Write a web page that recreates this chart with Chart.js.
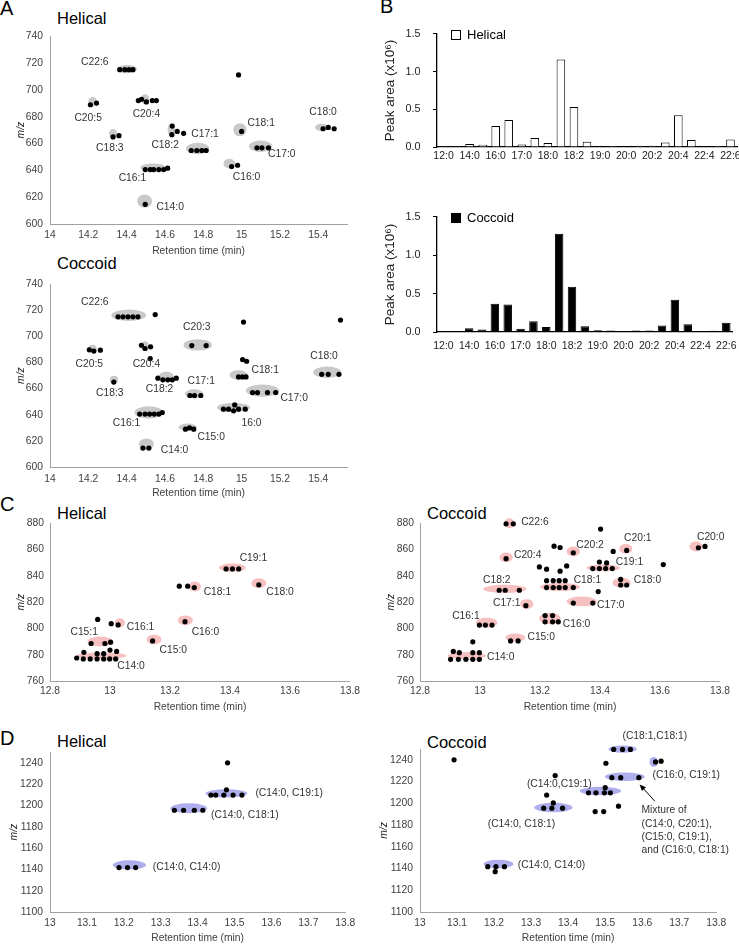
<!DOCTYPE html>
<html><head><meta charset="utf-8">
<script src="https://cdn.jsdelivr.net/npm/chart.js@4.4.1/dist/chart.umd.min.js"></script>
<style>
html,body{margin:0;padding:0;background:#fff;}
body{width:739px;height:944px;position:relative;overflow:hidden;font-family:"Liberation Sans",Arial,sans-serif;}
canvas{position:absolute;}
.t{position:absolute;line-height:1;white-space:nowrap;color:#000;}
</style></head><body>
<div class="t" style="left:0;top:-2px;font-size:20px">A</div>
<div class="t" style="left:57px;top:10px;font-size:16.5px">Helical</div>
<div class="t" style="left:57px;top:255px;font-size:16.5px">Coccoid</div>
<div class="t" style="left:380px;top:-4px;font-size:20px">B</div>
<div class="t" style="left:0;top:494px;font-size:20px">C</div>
<div class="t" style="left:57px;top:505px;font-size:16.5px">Helical</div>
<div class="t" style="left:427px;top:505px;font-size:16.5px">Coccoid</div>
<div class="t" style="left:0;top:728px;font-size:20px">D</div>
<div class="t" style="left:57px;top:733px;font-size:16.5px">Helical</div>
<div class="t" style="left:427px;top:734px;font-size:16.5px">Coccoid</div>
<canvas id="aH"></canvas><canvas id="aC"></canvas>
<canvas id="bH"></canvas><canvas id="bC"></canvas>
<canvas id="cH"></canvas><canvas id="cC"></canvas>
<canvas id="dH"></canvas><canvas id="dC"></canvas>
<script>
// ---------------- DATA ----------------
// Panel B categories and peak areas (x10^6)
const FA_CATS = ['12:0','13:0','14:0','15:0','16:0','16:1','17:0','17:1','18:0','18:1','18:2','18:3','19:0','19:1','20:0','20:1','20:2','20:3','20:4','20:5','22:4','22:5','22:6'];
const B_HELICAL = [0.003,0.003,0.04,0.03,0.28,0.36,0.033,0.12,0.053,1.16,0.53,0.07,0.008,0.012,0.004,0.016,0.016,0.06,0.42,0.094,0.008,0.012,0.10];
const B_COCCOID = [0.003,0.004,0.05,0.032,0.37,0.36,0.044,0.14,0.064,1.28,0.59,0.076,0.022,0.02,0.005,0.02,0.02,0.084,0.42,0.10,0.01,0.015,0.12];

// Panel A Helical: retention time (min), m/z
const A_H_RT = [14.364,14.39,14.412,14.433,14.984,14.211,14.243,14.461,14.478,14.503,14.534,14.555,14.329,14.36,14.638,14.664,14.697,14.636,14.737,14.766,14.792,14.815,14.497,14.523,14.541,14.568,14.593,14.614,14.497,15.0,14.948,14.979,15.08,15.106,15.14,15.425,15.452,15.483];
const A_H_MZ = [715,715,715,715,711.1,688.9,690.1,692,693,691,692,692,664.9,665.8,673,669,667.6,666.6,654.8,654.8,654.8,654.8,640.6,640.6,640.6,640.6,640.6,641.6,614.7,669,642.8,643.8,656.8,656.8,656.8,671,672,671];
const A_H_SPOT = [[14.402,715.5,0.052,3.06],[14.222,691.05,0.0217,3.67],[14.496,693.0,0.0217,3.67],[14.329,667.07,0.0217,3.67],[14.633,670.25,0.019,4.9],[14.771,656.3,0.0607,4.28],[14.537,642.1,0.065,3.06],[14.494,617.1,0.039,4.9],[14.991,670.25,0.0347,4.9],[14.936,645.04,0.0303,3.67],[15.099,658.0,0.0607,4.28],[15.418,672.0,0.0347,2.69]];
const A_H_LAB = ['C22:6','C20:5','C20:4','C18:3','C18:2','C17:1','C18:1','C16:1','C14:0','C16:0','C17:0','C18:0'];
const A_H_LAB_RT = [14.234,14.199,14.503,14.312,14.601,14.809,15.102,14.43,14.627,15.026,15.21,15.425];
const A_H_LAB_MZ = [720.9,678.8,681.75,656.8,658.75,666.6,675.1,634.0,612.2,634.8,652.4,683];

// Panel A Coccoid
const A_C_RT = [14.355,14.381,14.407,14.433,14.459,14.549,15.01,15.516,14.74,14.815,14.205,14.229,14.263,14.477,14.496,14.525,14.523,15.005,15.026,14.984,15.005,15.023,14.333,14.563,14.589,14.615,14.638,14.659,14.73,14.754,14.787,15.057,15.083,15.135,15.178,15.418,15.452,15.508,14.468,14.496,14.52,14.544,14.568,14.586,14.905,14.932,14.958,14.984,15.019,14.964,14.707,14.728,14.75,14.485,14.516];
const A_C_MZ = [715,715,715,715,715,716.75,711,712.5,693,693,689.75,688.75,689.5,693.25,690.75,692,683,682.25,681,669,669,669,665,668,666.75,666.75,666.75,668,654.75,654.75,654.75,657,657,657,657,671,671,671,640.5,640.5,640.5,640.5,640.5,641.75,644.25,644.25,643,644.25,644.25,647.5,629,630,629,614.5,614.5];
const A_C_SPOT = [[14.411,716.25,0.091,4.38],[14.771,693.5,0.0737,4.38],[14.222,690.5,0.0217,3.1],[14.496,692.5,0.0217,3.75],[14.984,670.5,0.0477,3.5],[14.334,666.75,0.0217,3.1],[14.607,669.25,0.039,3.75],[14.752,656,0.0477,3.5],[15.109,658.5,0.0867,4.75],[15.447,672.5,0.0737,4.38],[14.515,641.75,0.0737,4.75],[14.958,645.5,0.0867,3.5],[14.719,630.5,0.0477,2.75],[14.503,617.5,0.039,4.38]];
const A_C_LAB = ['C22:6','C20:3','C20:5','C20:4','C18:0','C18:1','C17:1','C18:2','C18:3','C17:0','C16:1','16:0','C15:0','C14:0'];
const A_C_LAB_RT = [14.234,14.766,14.205,14.503,15.43,15.123,14.789,14.572,14.312,15.274,14.399,15.052,14.841,14.65];
const A_C_LAB_MZ = [726,707,678.5,678.5,684.75,674,665.5,659.25,656.75,652.5,633.5,633.75,623,613];

// Panel C Helical
const C_H_RT = [12.959,13.004,13.027,13.231,13.259,13.281,13.387,13.408,13.429,13.496,13.25,13.142,12.937,12.983,13.002,13.0,13.022,12.913,12.957,12.979,12.889,12.911,12.934,12.957,12.979,12.999,13.019];
const C_H_MZ = [806.8,803.6,802.6,832.1,832.1,831.1,845.2,845.2,845.2,833.1,805.1,790.5,788.5,788.5,789.5,783.5,782.5,781.8,780.8,780.8,777.5,776.8,776.8,776.8,776.8,776.8,776.8];
const C_H_SPOT = [[12.967,790.0,0.0417,3.76],[12.972,779.25,0.0833,2.5],[13.033,804.3,0.0167,3.38],[13.147,791.5,0.025,3.76],[13.251,806.1,0.025,3.76],[13.283,831.9,0.02,3.76],[13.408,846.2,0.0444,3.13],[13.496,834.4,0.025,3.76]];
const C_H_LAB = ['C19:1','C18:1','C18:0','C16:1','C15:1','C16:0','C15:0','C14:0'];
const C_H_LAB_RT = [13.478,13.358,13.567,13.102,12.914,13.318,13.211,13.07];
const C_H_LAB_MZ = [853.2,827.6,827.6,801.05,797.5,797.5,783.5,771.5];

// Panel C Coccoid
const C_C_RT = [13.087,13.111,13.402,13.247,13.267,13.311,13.444,13.489,13.728,13.75,13.087,13.198,13.222,13.267,13.289,13.398,13.422,13.376,13.398,13.419,13.441,13.611,13.222,13.244,13.264,13.284,13.222,13.244,13.264,13.284,13.311,13.469,13.469,13.489,13.064,13.084,13.131,13.394,13.153,13.311,13.376,12.998,13.018,13.04,13.217,13.242,13.217,13.242,13.261,13.102,13.127,12.976,12.911,12.931,12.976,12.998,12.902,12.928,12.953,12.976,12.998];
const C_C_MZ = [879.5,879.5,875.5,862.5,861.5,857.5,858.5,859.3,861.3,862.3,853,846.75,845,843.5,847.5,850.5,849.75,845.5,845.5,845.5,845.5,848.5,836.25,836.25,836.25,836.25,831,831,831,831,831,837.25,833,833,829,829,829,828,817.25,819.25,819.25,802.5,802.5,802.5,809.75,809.75,805,805,805,790.5,790.5,789.75,782.5,781.5,781.5,781.5,776.5,776.5,776.5,776.5,776.5];
const C_C_SPOT = [[13.098,880,0.0167,3.75],[13.087,854,0.022,3.75],[13.311,858.5,0.022,3.75],[13.486,860.5,0.022,3.75],[13.72,862.25,0.022,3.75],[13.411,846,0.0556,2.5],[13.083,830,0.072,3.1],[13.267,831.5,0.0667,3.1],[13.472,834.75,0.0306,3.75],[13.156,818.5,0.022,3.75],[13.339,820.5,0.05,3.75],[13.022,804.25,0.036,3.75],[13.233,807.5,0.036,4.4],[13.118,793,0.033,3.1],[12.956,779.25,0.064,2.75]];
const C_C_LAB = ['C22:6','C20:4','C20:2','C20:1','C20:0','C19:1','C18:2','C18:1','C18:0','C17:1','C17:0','C16:1','C16:0','C15:0','C14:0'];
const C_C_LAB_RT = [13.183,13.159,13.367,13.526,13.769,13.498,13.056,13.358,13.558,13.089,13.436,12.953,13.322,13.204,13.069];
const C_C_LAB_MZ = [881,856,863.5,868.5,869.25,850.5,836.5,836.5,836.5,819.5,817.5,809.25,803,793.5,778];

// Panel D Helical
const D_H_RT = [13.481,13.478,13.436,13.449,13.471,13.496,13.52,13.337,13.362,13.391,13.414,13.187,13.21,13.232];
const D_H_MZ = [1240,1214.7,1209.7,1209.7,1209.7,1209.7,1209.7,1195.5,1195.5,1195.5,1195.5,1141.7,1141.7,1141.7];
const D_H_SPOT = [[13.478,1211.3,0.0564,3.86],[13.376,1197.4,0.0496,4.64],[13.215,1144.2,0.0451,4.33]];
const D_H_LAB = ['(C14:0, C19:1)','(C14:0, C18:1)','(C14:0, C14:0)'];
const D_H_LAB_RT = [13.648,13.528,13.37];
const D_H_LAB_MZ = [1211.3,1191.2,1142.3];

// Panel D Coccoid
const D_C_RT = [13.092,13.502,13.636,13.651,13.523,13.547,13.568,13.365,13.518,13.542,13.591,13.342,13.5,13.455,13.475,13.498,13.514,13.36,13.334,13.356,13.385,13.473,13.496,13.536,13.183,13.205,13.228,13.203];
const D_C_MZ = [1240,1236.9,1238.1,1238.8,1249.6,1249.6,1249.6,1225.5,1223.6,1223.6,1223.6,1207.6,1214.4,1209.7,1209.7,1209.7,1209.7,1200.4,1195.5,1195.5,1195.5,1192.4,1192.4,1197.4,1141.7,1141.7,1141.7,1137.1];
const D_C_SPOT = [[13.547,1249.9,0.0382,3.4],[13.631,1238.1,0.0112,4.64],[13.553,1224.5,0.054,3.86],[13.487,1211.3,0.056,3.86],[13.36,1196.1,0.0517,4.33],[13.212,1144.2,0.0404,3.86]];
const D_C_LAB = ['(C18:1,C18:1)','(C16:0, C19:1)','(C14:0,C19:1)','(C14:0, C18:1)','(C14:0, C14:0)'];
const D_C_LAB_RT = [13.634,13.719,13.376,13.274,13.355];
const D_C_LAB_MZ = [1262.2,1225.8,1217.4,1180.4,1143];
const D_C_NOTE = ['Mixture of','(C14:0, C20:1),','(C15:0, C19:1),','and (C16:0, C18:1)'];
const D_C_NOTE_RT = 13.598;
const D_C_NOTE_MZ = [1193.6,1180.4,1168.9,1157.2];
const D_C_ARROW = [[13.634,1202],[13.593,1217.4]];

// ---------------- RENDER ----------------
const FONT = '"Liberation Sans", Arial, sans-serif';
Chart.defaults.font.family = FONT;
Chart.defaults.color = '#333';
const AXIS = '#a0a0a0';
const TXT = '#404040';

function annot(spec) {
  return {
    id: 'annot',
    beforeDatasetsDraw(chart) {
      const ctx = chart.ctx, xs = chart.scales.x, ys = chart.scales.y;
      ctx.save();
      ctx.fillStyle = spec.fill;
      (spec.spots || []).forEach(s => {
        const cx = xs.getPixelForValue(s[0]), cy = ys.getPixelForValue(s[1]);
        const rx = Math.abs(xs.getPixelForValue(s[0] + s[2]) - cx);
        const ry = Math.abs(ys.getPixelForValue(s[1] + s[3]) - cy);
        ctx.beginPath(); ctx.ellipse(cx, cy, rx, ry, 0, 0, Math.PI * 2); ctx.fill();
      });
      ctx.restore();
    },
    afterDatasetsDraw(chart) {
      const ctx = chart.ctx, xs = chart.scales.x, ys = chart.scales.y;
      ctx.save();
      ctx.fillStyle = '#333';
      ctx.font = '10.3px ' + FONT;
      ctx.textBaseline = 'middle';
      ctx.textAlign = 'center';
      spec.lab.forEach((t, i) => ctx.fillText(t, xs.getPixelForValue(spec.labRT[i]), ys.getPixelForValue(spec.labMZ[i])));
      if (spec.note) {
        ctx.textAlign = 'left';
        spec.note.forEach((t, i) => ctx.fillText(t, xs.getPixelForValue(spec.noteRT), ys.getPixelForValue(spec.noteMZ[i])));
      }
      if (spec.arrow) {
        const x1 = xs.getPixelForValue(spec.arrow[0][0]), y1 = ys.getPixelForValue(spec.arrow[0][1]);
        const x2 = xs.getPixelForValue(spec.arrow[1][0]), y2 = ys.getPixelForValue(spec.arrow[1][1]);
        const a = Math.atan2(y2 - y1, x2 - x1);
        ctx.strokeStyle = '#000'; ctx.fillStyle = '#000'; ctx.lineWidth = 1;
        ctx.beginPath(); ctx.moveTo(x1, y1); ctx.lineTo(x2 - 4 * Math.cos(a), y2 - 4 * Math.sin(a)); ctx.stroke();
        ctx.beginPath(); ctx.moveTo(x2, y2);
        ctx.lineTo(x2 - 7 * Math.cos(a - 0.4), y2 - 7 * Math.sin(a - 0.4));
        ctx.lineTo(x2 - 7 * Math.cos(a + 0.4), y2 - 7 * Math.sin(a + 0.4));
        ctx.closePath(); ctx.fill();
      }
      ctx.restore();
    }
  };
}

function setBox(cv, box) {
  const left = box.l - box.yW, top = box.t - box.padT;
  const w = box.r - box.l + box.yW + box.padR, h = box.b - box.t + box.padT + box.xH;
  cv.width = w; cv.height = h;
  cv.style.left = left + 'px'; cv.style.top = top + 'px';
  cv.style.width = w + 'px'; cv.style.height = h + 'px';
}

function scatter(id, box, ax, rt, mz, spec) {
  const cv = document.getElementById(id);
  setBox(cv, box);
  new Chart(cv, {
    type: 'scatter',
    data: { datasets: [{ data: rt.map((x, i) => ({ x: x, y: mz[i] })), pointRadius: 2.6, pointHoverRadius: 2.6, backgroundColor: '#000', borderWidth: 0, clip: false }] },
    options: {
      responsive: false, animation: false, devicePixelRatio: 1, events: [],
      layout: { padding: { top: box.padT, right: box.padR, left: 0, bottom: 0 } },
      plugins: { legend: { display: false }, tooltip: { enabled: false } },
      scales: {
        x: {
          type: 'linear', position: 'bottom', min: ax.xmin, max: ax.xmax,
          afterFit: s => { s.height = box.xH; },
          grid: { display: false, drawTicks: false },
          border: { display: true, color: AXIS, width: 1 },
          ticks: { stepSize: ax.xstep, includeBounds: false, autoSkip: false, maxRotation: 0, padding: ax.xtp, font: { size: 10.3 }, color: TXT, callback: v => String(Math.round(v * 10) / 10) },
          title: { display: true, text: 'Retention time (min)', font: { size: 10.3 }, color: TXT, padding: { top: 0, bottom: ax.xtt } }
        },
        y: {
          type: 'linear', position: 'left', min: ax.ymin, max: ax.ymax,
          afterFit: s => { s.width = box.yW; },
          grid: { display: false, drawTicks: false },
          border: { display: true, color: AXIS, width: 1 },
          ticks: { stepSize: ax.ystep, includeBounds: false, autoSkip: false, padding: ax.ytp, font: { size: 10.3 }, color: TXT, callback: v => String(Math.round(v)) },
          title: { display: true, text: 'm/z', font: { size: 10.3, style: 'italic' }, color: '#222', padding: { top: ax.ytt, bottom: 0 } }
        }
      }
    },
    plugins: [annot(spec)]
  });
}

function bars(id, box, vals, fill, legendText, xtp) {
  const cv = document.getElementById(id);
  setBox(cv, box);
  const legend = {
    id: 'leg',
    afterDraw(chart) {
      const ctx = chart.ctx, a = chart.chartArea;
      ctx.save();
      ctx.fillStyle = fill; ctx.strokeStyle = '#000'; ctx.lineWidth = 1;
      ctx.fillRect(a.left + 14.5, a.top - 3.5, 9, 9); ctx.strokeRect(a.left + 14.5, a.top - 3.5, 9, 9);
      ctx.fillStyle = '#000'; ctx.font = '13px ' + FONT; ctx.textBaseline = 'middle'; ctx.textAlign = 'left';
      ctx.fillText(legendText, a.left + 30, a.top + 1);
      ctx.restore();
    }
  };
  new Chart(cv, {
    type: 'bar',
    data: { labels: FA_CATS, datasets: [{ data: vals, backgroundColor: fill, borderColor: '#000', borderWidth: 1, barPercentage: 0.66, categoryPercentage: 1 }] },
    options: {
      responsive: false, animation: false, devicePixelRatio: 1, events: [],
      layout: { padding: { top: box.padT, right: box.padR, left: 0, bottom: 0 } },
      plugins: { legend: { display: false }, tooltip: { enabled: false } },
      scales: {
        x: {
          type: 'category', offset: true,
          afterFit: s => { s.height = box.xH; },
          grid: { display: false, drawTicks: false },
          border: { display: true, color: '#000', width: 1.3 },
          ticks: { autoSkip: false, maxRotation: 0, minRotation: 0, padding: xtp, font: { size: 10.5 }, color: '#222', callback: (v, i) => (i % 2 === 0 ? FA_CATS[i] : '') }
        },
        y: {
          min: 0, max: 1.5,
          afterFit: s => { s.width = box.yW; },
          grid: { display: true, drawOnChartArea: false, drawTicks: true, tickLength: 4, color: '#000' },
          border: { display: true, color: '#000', width: 1.3 },
          ticks: { stepSize: 0.5, padding: 12.5, font: { size: 10.8 }, color: '#222', callback: v => v.toFixed(1) },
          title: { display: true, text: 'Peak area (x10\u2076)', font: { size: 13.5 }, color: '#222', padding: { top: 12.6, bottom: 0 } }
        }
      }
    },
    plugins: [legend]
  });
}

const GRAY = '#c9c9c9', PINK = 'rgba(240,140,140,0.55)', BLUE = 'rgba(120,120,225,0.6)';

scatter('aH', { l: 50, t: 33, r: 347, b: 224, yW: 50, xH: 44, padT: 10, padR: 14 },
  { xmin: 14, xmax: 15.55, xstep: 0.2, ymin: 600, ymax: 740, ystep: 20, xtp: 5, xtt: 11, ytp: 7, ytt: 15 },
  A_H_RT, A_H_MZ, { fill: GRAY, spots: A_H_SPOT, lab: A_H_LAB, labRT: A_H_LAB_RT, labMZ: A_H_LAB_MZ });
scatter('aC', { l: 50, t: 281, r: 347, b: 467, yW: 50, xH: 38, padT: 10, padR: 14 },
  { xmin: 14, xmax: 15.55, xstep: 0.2, ymin: 600, ymax: 740, ystep: 20, xtp: 6, xtt: 5.7, ytp: 7, ytt: 15 },
  A_C_RT, A_C_MZ, { fill: GRAY, spots: A_C_SPOT, lab: A_C_LAB, labRT: A_C_LAB_RT, labMZ: A_C_LAB_MZ });
scatter('cH', { l: 50, t: 521, r: 350, b: 681, yW: 50, xH: 34, padT: 10, padR: 14 },
  { xmin: 12.8, xmax: 13.8, xstep: 0.2, ymin: 760, ymax: 880, ystep: 20, xtp: 4, xtt: 2, ytp: 6, ytt: 15 },
  C_H_RT, C_H_MZ, { fill: PINK, spots: C_H_SPOT, lab: C_H_LAB, labRT: C_H_LAB_RT, labMZ: C_H_LAB_MZ });
scatter('cC', { l: 420, t: 521, r: 720, b: 681, yW: 50, xH: 34, padT: 10, padR: 14 },
  { xmin: 12.8, xmax: 13.8, xstep: 0.2, ymin: 760, ymax: 880, ystep: 20, xtp: 4, xtt: 2, ytp: 6, ytt: 15 },
  C_C_RT, C_C_MZ, { fill: PINK, spots: C_C_SPOT, lab: C_C_LAB, labRT: C_C_LAB_RT, labMZ: C_C_LAB_MZ });
scatter('dH', { l: 50, t: 749, r: 346, b: 912, yW: 50, xH: 32, padT: 10, padR: 14 },
  { xmin: 13, xmax: 13.8, xstep: 0.1, ymin: 1100, ymax: 1250, ystep: 20, xtp: 4.7, xtt: 0, ytp: 7, ytt: 8 },
  D_H_RT, D_H_MZ, { fill: BLUE, spots: D_H_SPOT, lab: D_H_LAB, labRT: D_H_LAB_RT, labMZ: D_H_LAB_MZ });
scatter('dC', { l: 420, t: 749, r: 717, b: 912, yW: 50, xH: 32, padT: 24, padR: 14 },
  { xmin: 13, xmax: 13.8, xstep: 0.1, ymin: 1100, ymax: 1250, ystep: 20, xtp: 4.7, xtt: 0, ytp: 7, ytt: 8 },
  D_C_RT, D_C_MZ, { fill: BLUE, spots: D_C_SPOT, lab: D_C_LAB, labRT: D_C_LAB_RT, labMZ: D_C_LAB_MZ, note: D_C_NOTE, noteRT: D_C_NOTE_RT, noteMZ: D_C_NOTE_MZ, arrow: D_C_ARROW });

bars('bH', { l: 437, t: 25, r: 737, b: 147, yW: 67, xH: 20, padT: 10, padR: 8 }, B_HELICAL, '#fff', 'Helical', 2.5);
bars('bC', { l: 437, t: 208, r: 737, b: 332, yW: 67, xH: 24, padT: 10, padR: 8 }, B_COCCOID, '#000', 'Coccoid', 8.3);
</script>
</body></html>
